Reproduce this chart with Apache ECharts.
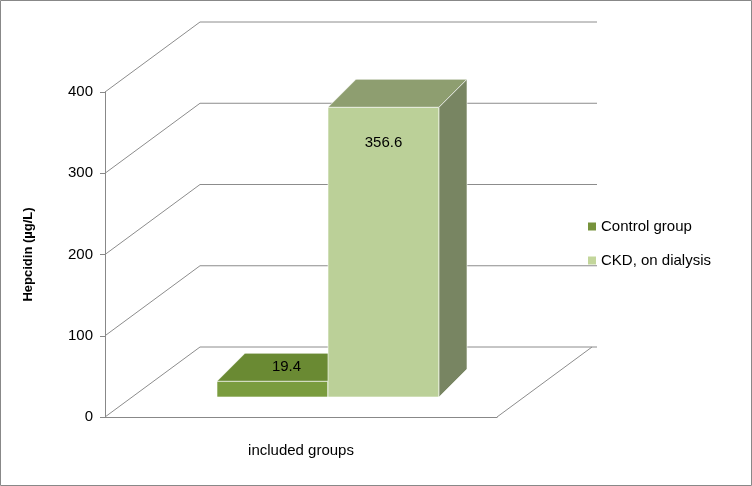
<!DOCTYPE html>
<html><head><meta charset="utf-8">
<script src="https://cdn.jsdelivr.net/npm/echarts@6/dist/echarts.min.js"></script>
<style>html,body{margin:0;padding:0;background:#fff}#c{width:752px;height:486px}</style>
</head><body><div id="c"></div>
<script>
var categories = ['included groups'];
var seriesNames = ['Control group', 'CKD, on dialysis'];
var controlValues = [19.4];
var ckdValues = [356.6];
var yTicks = [0, 100, 200, 300, 400];

var DX = 95, DY = -70;      // wall depth
var FX = 27, FY = -20;      // bar front plane
var BD = 28;                // bar depth
var BW = 111;

function barRender(offL, cols) {
  return function (params, api) {
    var v = api.value(1);
    var p = api.coord([api.value(0), v]);
    var y0 = api.coord([api.value(0), 0])[1];
    var cx = p[0];
    var xL = cx + offL;
    var yBase = y0 + FY;
    var yTop = yBase - (y0 - p[1]);
    var xR = xL + BW;
    var children = [
      {type:'rect', shape:{x:xL, y:yTop, width:BW, height:yBase-yTop}, style:{fill:cols[0], stroke:'#fff', lineWidth:0.6}},
      {type:'polygon', shape:{points:[[xL,yTop],[xL+BD,yTop-BD],[xR+BD,yTop-BD],[xR,yTop]]}, style:{fill:cols[1], stroke:'#fff', lineWidth:0.6}},
      {type:'polygon', shape:{points:[[xR,yTop],[xR+BD,yTop-BD],[xR+BD,yBase-BD],[xR,yBase]]}, style:{fill:cols[2], stroke:'#fff', lineWidth:0.6}}
    ];
    var lx, ly;
    if (yBase - yTop < 40) { lx = xL + BW/2 + BD/2; ly = yTop - BD/2; }
    else { lx = xL + BW/2 + 0; ly = yTop + 36; }
    children.push({type:'text', style:{text:String(v), x:lx, y:ly, align:'center', verticalAlign:'middle', font:'15px "Liberation Sans", Arial', fill:'#000'}});
    return {type:'group', children:children};
  };
}

var chart = echarts.init(document.getElementById('c'));
chart.setOption({
  animation:false,
  graphic:[{type:'rect', shape:{x:0.5,y:0.5,width:751,height:485}, style:{fill:'none', stroke:'#888', lineWidth:1}, z:-10}],
  grid:{left:105, right:255, top:92, bottom:69},
  legend:{orient:'vertical', left:583, top:214, itemGap:19, itemWidth:8, itemHeight:8, icon:'rect',
    textStyle:{fontSize:15, fontFamily:'"Liberation Sans", Arial', color:'#000'},
    data:seriesNames},
  xAxis:{type:'category', data:categories, axisTick:{show:false},
    axisLine:{lineStyle:{color:'#888'}},
    axisLabel:{fontSize:15, fontFamily:'"Liberation Sans", Arial', color:'#000', margin:26}},
  yAxis:{type:'value', min:0, max:400, interval:100, splitLine:{show:false},
    axisLine:{show:true, lineStyle:{color:'#888'}}, axisTick:{show:true, length:5, lineStyle:{color:'#888'}},
    axisLabel:{fontSize:15, fontFamily:'"Liberation Sans", Arial', color:'#000', margin:12},
    name:'Hepcidin (µg/L)', nameLocation:'middle', nameGap:70, nameRotate:90,
    nameTextStyle:{fontSize:13, fontWeight:'bold', fontFamily:'"Liberation Sans", Arial', color:'#000'}},
  series:[
    {type:'custom', name:'grid', silent:true, clip:false, z:1, legendHoverLink:false,
      data:yTicks.map(function(t){return [0,t];}),
      renderItem:function(params, api){
        var y = api.coord([0, api.value(1)])[1];
        var x = params.coordSys.x;
        var w = params.coordSys.width;
        var ch = [{type:'polyline', shape:{points:[[x,y],[x+DX,y+DY],[x+w+DX+5,y+DY]]}, style:{stroke:'#8c8c8c', lineWidth:1, fill:null}}];
        if (api.value(1) === 0) ch.push({type:'line', shape:{x1:x+w, y1:y, x2:x+w+DX, y2:y+DY}, style:{stroke:'#8c8c8c', lineWidth:1}});
        return {type:'group', children:ch};
      }},
    {type:'custom', name:seriesNames[0], clip:false, z:2, itemStyle:{color:'#77933c'},
      data:controlValues.map(function(v,i){return [i,v];}),
      renderItem:barRender(-84, ['#7a9c3e','#6a8a33','#5e7a2c'])},
    {type:'custom', name:seriesNames[1], clip:false, z:3, itemStyle:{color:'#c3d69b'},
      data:ckdValues.map(function(v,i){return [i,v];}),
      renderItem:barRender(27, ['#bbd098','#8e9e70','#788562'])}
  ]
});
</script></body></html>
